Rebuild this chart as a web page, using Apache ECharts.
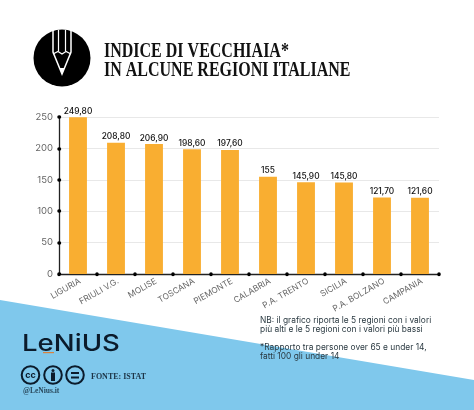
<!DOCTYPE html>
<html><head><meta charset="utf-8">
<style>html,body{margin:0;padding:0;background:#fff}#c{width:474px;height:410px}</style>
<script src="https://cdn.jsdelivr.net/npm/echarts@6/dist/echarts.min.js"></script>
</head><body><div id="c"></div>
<script>
const categories = ['LIGURIA','FRIULI V.G.','MOLISE','TOSCANA','PIEMONTE','CALABRIA','P.A. TRENTO','SICILIA','P.A. BOLZANO','CAMPANIA'];
const values = [249.8,208.8,206.9,198.6,197.6,155,145.9,145.8,121.7,121.6];
const valueLabels = ['249,80','208,80','206,90','198,60','197,60','155','145,90','145,80','121,70','121,60'];
const yTicks = [0,50,100,150,200,250];
const titleLines = ['INDICE DI VECCHIAIA*','IN ALCUNE REGIONI ITALIANE'];
const noteLines = ['NB: il grafico riporta le 5 regioni con i valori','più alti e le 5 regioni con i valori più bassi','','*Rapporto tra persone over 65 e under 14,','fatti 100 gli under 14'];
const sans = 'Inter, "Open Sans", sans-serif';
const serif = '"Liberation Serif", serif';
const ink = '#0b1b2b';
const chart = echarts.init(document.getElementById('c'), null, {renderer:'canvas'});
const g = [
 {type:'polygon',z:0,shape:{points:[[0,300],[474,380],[474,410],[0,410]]},style:{fill:'#7fc8ec'}},
 {type:'circle',z:5,shape:{cx:62,cy:58,r:28.5},style:{fill:'#000'}},
 {type:'polyline',z:6,shape:{points:[[53,30],[53,52],[62,74],[71,52],[71,30]]},style:{stroke:'#fff',fill:null,lineWidth:1.5}},
 {type:'polyline',z:6,shape:{points:[[58.5,30],[58.5,51]]},style:{stroke:'#fff',lineWidth:1.2}},
 {type:'polyline',z:6,shape:{points:[[65.5,30],[65.5,51]]},style:{stroke:'#fff',lineWidth:1.2}},
 {type:'polyline',z:6,shape:{points:[[53,54],[58,51.5],[62,54],[66,51.5],[71,54]]},style:{stroke:'#fff',fill:null,lineWidth:1.2}},
 {type:'polygon',z:6,shape:{points:[[59.5,68],[64.5,68],[62,74]]},style:{fill:'#fff'}},
 {type:'text',z:6,x:104,y:42,scaleY:1.25,style:{text:titleLines[0],font:'700 16px '+serif,fill:'#111'}},
 {type:'text',z:6,x:104,y:61,scaleY:1.25,style:{text:titleLines[1],font:'700 16px '+serif,fill:'#111'}},
 {type:'text',z:6,x:22,y:333,scaleX:1.2,style:{text:'LeNiUS',font:'500 23px '+sans,fill:ink}},
 {type:'rect',z:6,shape:{x:43,y:352,width:11,height:1.2},style:{fill:'#d9823f'}},
 {type:'circle',z:6,shape:{cx:30.5,cy:375,r:8.8},style:{fill:'none',stroke:ink,lineWidth:2}},
 {type:'text',z:6,x:30.5,y:375,style:{text:'cc',font:'700 9px '+sans,fill:ink,align:'center',verticalAlign:'middle'}},
 {type:'circle',z:6,shape:{cx:53,cy:375,r:8.8},style:{fill:'none',stroke:ink,lineWidth:2}},
 {type:'circle',z:6,shape:{cx:53,cy:370.5,r:1.5},style:{fill:ink}},
 {type:'rect',z:6,shape:{x:51,y:372.5,width:4,height:8.5},style:{fill:ink}},
 {type:'circle',z:6,shape:{cx:75,cy:375,r:8.8},style:{fill:'none',stroke:ink,lineWidth:2}},
 {type:'rect',z:6,shape:{x:71,y:372,width:8,height:2},style:{fill:ink}},
 {type:'rect',z:6,shape:{x:71,y:376.5,width:8,height:2},style:{fill:ink}},
 {type:'text',z:6,x:91,y:373,style:{text:'FONTE: ISTAT',font:'700 8px '+serif,fill:'#1c3446'}},
 {type:'text',z:6,x:23,y:387,style:{text:'@LeNius.it',font:'700 7.5px '+serif,fill:'#2a4a5e'}}
];
noteLines.forEach((t,i)=>g.push({type:'text',z:6,x:260,y:316+i*9,style:{text:t,font:'400 8.4px '+sans,fill:'#2b3a42'}}));
chart.setOption({
 animation:false,
 backgroundColor:'#fff',
 grid:{left:59,right:35,top:117,bottom:136,containLabel:false},
 graphic:g,
 xAxis:{type:'category',data:categories,
  axisLine:{lineStyle:{color:'#222',width:1.3}},
  axisTick:{show:true,alignWithLabel:false,length:0.5,lineStyle:{color:'#000',width:3.5,cap:'round'}},
  axisLabel:{interval:0,rotate:30,margin:3,fontFamily:sans,fontSize:8.4,color:'#666',align:'right',verticalAlign:'top'}},
 yAxis:{type:'value',min:0,max:250,interval:50,
  axisLine:{show:true,lineStyle:{color:'#222',width:1.3}},
  axisTick:{show:true,inside:true,length:0.5,lineStyle:{color:'#000',width:3.5,cap:'round'}},
  splitLine:{lineStyle:{color:'#e8e8e8',width:1}},
  axisLabel:{margin:6,fontFamily:sans,fontSize:9.5,color:'#666',customValues:yTicks}},
 series:[{type:'bar',data:values,barWidth:'47%',itemStyle:{color:'#f9ae31'},
  label:{show:true,position:'top',distance:2,fontFamily:sans,fontSize:8.4,fontWeight:500,color:'#111',
   formatter:p=>valueLabels[p.dataIndex]}}]
});
</script></body></html>
